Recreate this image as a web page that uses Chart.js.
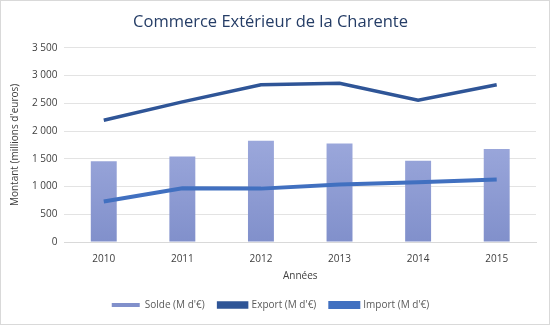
<!DOCTYPE html>
<html>
<head>
<meta charset="utf-8">
<script src="https://cdn.jsdelivr.net/npm/chart.js@4/dist/chart.umd.min.js"></script>
<style>
  html, body { margin: 0; padding: 0; background: #fff; }
  #wrap { position: relative; width: 548px; height: 323px; border: 1px solid #d9d9d9; }
</style>
</head>
<body>
<div id="wrap"><canvas id="c" width="548" height="323"></canvas></div>
<script>
// data
const years = ['2010', '2011', '2012', '2013', '2014', '2015'];
const solde = [1455, 1540, 1825, 1775, 1465, 1675];
const exportVals = [2195, 2525, 2835, 2860, 2555, 2835];
const importVals = [730, 968, 962, 1038, 1078, 1125];
const yTicks = [0, 500, 1000, 1500, 2000, 2500, 3000, 3500];

const fmt = v => String(v).replace(/\B(?=(\d{3})+(?!\d))/g, ' ');

const barFill = (ctx) => {
  const area = ctx.chart.chartArea;
  if (!area) return '#9aa6da';
  const g = ctx.chart.ctx.createLinearGradient(0, area.top, 0, area.bottom);
  g.addColorStop(0, '#b3bdea');
  g.addColorStop(1, '#8190cb');
  return g;
};

new Chart(document.getElementById('c'), {
  data: {
    labels: years,
    datasets: [
      {
        type: 'bar', label: "Solde (M d'€)", data: solde, order: 3,
        backgroundColor: barFill, borderWidth: 0,
        categoryPercentage: 1, barPercentage: 0.33
      },
      {
        type: 'line', label: "Export (M d'€)", data: exportVals, order: 1,
        borderColor: '#2f5597', backgroundColor: '#2f5597',
        borderWidth: 3.5, pointRadius: 0, tension: 0
      },
      {
        type: 'line', label: "Import (M d'€)", data: importVals, order: 2,
        borderColor: '#4170c0', backgroundColor: '#4170c0',
        borderWidth: 4, pointRadius: 0, tension: 0
      }
    ]
  },
  options: {
    responsive: false,
    animation: false,
    layout: { padding: { left: 4, right: 13, top: 4, bottom: 4 } },
    plugins: {
      title: {
        display: true, text: 'Commerce Extérieur de la Charente',
        color: '#253d66', font: { family: 'Open Sans', size: 16.5, weight: 'normal' },
        padding: { top: 7, bottom: 16 }
      },
      legend: {
        position: 'bottom',
        labels: {
          color: '#595959', font: { family: 'Open Sans', size: 10 },
          boxWidth: 28, boxHeight: 4, padding: 14,
          sort: (a, b) => a.datasetIndex - b.datasetIndex
        }
      },
      tooltip: { enabled: false }
    },
    scales: {
      x: {
        grid: { display: false },
        border: { color: '#d9d9d9' },
        ticks: { color: '#404040', font: { family: 'Open Sans', size: 10 } },
        title: { display: true, text: 'Années', color: '#404040',
                 font: { family: 'Open Sans', size: 10 }, padding: { top: 2 } }
      },
      y: {
        min: 0, max: 3500,
        afterBuildTicks: axis => { axis.ticks = yTicks.map(v => ({ value: v })); },
        grid: { color: '#e3e3e3', drawTicks: false },
        border: { display: false },
        ticks: { color: '#404040', padding: 7, font: { family: 'Open Sans', size: 10 },
                 callback: v => fmt(v) },
        title: { display: true, text: "Montant (millions d'euros)", color: '#404040',
                 font: { family: 'Open Sans', size: 10 } }
      }
    }
  }
});
</script>
</body>
</html>
